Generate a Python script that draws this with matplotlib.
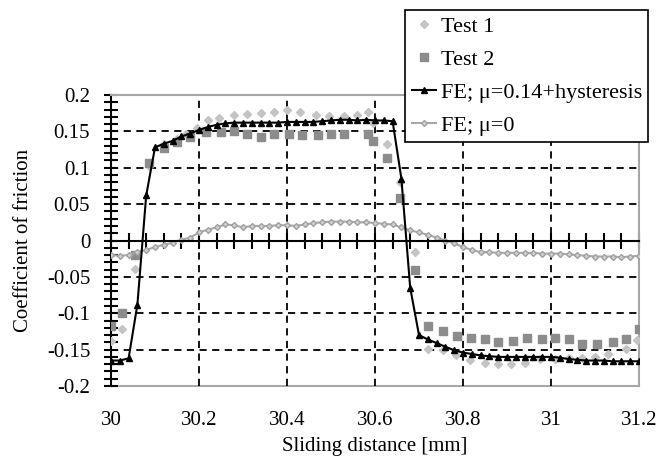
import numpy as np
import matplotlib
matplotlib.use("Agg")
import matplotlib.pyplot as plt
from matplotlib.ticker import MultipleLocator

plt.rcParams['font.family'] = ['Liberation Serif', 'DejaVu Serif']

# ---- data ----
test1_x = [30.0, 30.025, 30.055, 30.087, 30.12, 30.15, 30.17, 30.195, 30.22, 30.245,
           30.28, 30.31, 30.34, 30.37, 30.40, 30.43, 30.465, 30.495, 30.53, 30.56,
           30.585, 30.595, 30.627, 30.657, 30.69, 30.72, 30.755, 30.785, 30.816, 30.85,
           30.88, 30.91, 30.94, 30.975, 31.01, 31.04, 31.07, 31.10, 31.13, 31.17, 31.195]
test1_y = [-0.138, -0.122, -0.039, 0.102, 0.132, 0.14, 0.146, 0.155, 0.165, 0.169,
           0.172, 0.174, 0.175, 0.176, 0.179, 0.177, 0.173, 0.171, 0.171, 0.172,
           0.176, 0.161, 0.132, 0.08, -0.016, -0.149, -0.151, -0.158, -0.164, -0.168,
           -0.17, -0.17, -0.168, -0.163, -0.163, -0.162, -0.161, -0.16, -0.156, -0.149, -0.137]

test2_x = [30.0, 30.025, 30.055, 30.087, 30.12, 30.15, 30.18, 30.215, 30.25, 30.28,
           30.31, 30.34, 30.37, 30.405, 30.435, 30.47, 30.5, 30.53, 30.585, 30.595,
           30.627, 30.657, 30.69, 30.72, 30.755, 30.786, 30.818, 30.85, 30.88, 30.914,
           30.945, 30.98, 31.01, 31.04, 31.07, 31.105, 31.14, 31.17, 31.2]
test2_y = [-0.117, -0.10, -0.02, 0.106, 0.127, 0.136, 0.142, 0.149, 0.149, 0.15,
           0.147, 0.142, 0.147, 0.147, 0.145, 0.145, 0.147, 0.147, 0.147, 0.137,
           0.113, 0.059, -0.041, -0.117, -0.124, -0.131, -0.134, -0.136, -0.14, -0.138,
           -0.134, -0.136, -0.134, -0.136, -0.142, -0.142, -0.14, -0.135, -0.121]

fe_x = [30.0, 30.02, 30.04, 30.06, 30.08, 30.10, 30.12, 30.14, 30.16, 30.18,
        30.20, 30.22, 30.24, 30.26, 30.28, 30.30, 30.32, 30.34, 30.36, 30.38,
        30.40, 30.42, 30.44, 30.46, 30.48, 30.50, 30.52, 30.54, 30.56, 30.58,
        30.60, 30.62, 30.64, 30.66, 30.68, 30.70, 30.72, 30.74, 30.76, 30.78,
        30.80, 30.82, 30.84, 30.86, 30.88, 30.90, 30.92, 30.94, 30.96, 30.98,
        31.00, 31.02, 31.04, 31.06, 31.08, 31.10, 31.12, 31.14, 31.16, 31.18, 31.20]
fe_hyst_y = [-0.165, -0.165, -0.162, -0.088, 0.062, 0.128, 0.133, 0.137, 0.143, 0.147,
             0.152, 0.156, 0.159, 0.161, 0.162, 0.162, 0.162, 0.162, 0.162, 0.162,
             0.163, 0.163, 0.163, 0.163, 0.164, 0.165, 0.166, 0.166, 0.165, 0.166,
             0.165, 0.165, 0.164, 0.085, -0.065, -0.13, -0.136, -0.141, -0.146, -0.151,
             -0.154, -0.156, -0.158, -0.159, -0.16, -0.16, -0.16, -0.16, -0.16, -0.16,
             -0.16, -0.161, -0.163, -0.164, -0.165, -0.165, -0.165, -0.166, -0.166, -0.166, -0.166]
fe_zero_y = [-0.02, -0.021, -0.02, -0.016, -0.013, -0.009, -0.006, -0.003, 0.001, 0.004,
             0.011, 0.015, 0.018, 0.022, 0.021, 0.018, 0.02, 0.02, 0.02, 0.021,
             0.021, 0.02, 0.022, 0.024, 0.025, 0.026, 0.026, 0.026, 0.025, 0.025,
             0.024, 0.023, 0.022, 0.018, 0.014, 0.011, 0.008, 0.004, 0.0, -0.004,
             -0.009, -0.013, -0.016, -0.016, -0.017, -0.017, -0.017, -0.017, -0.017, -0.018,
             -0.018, -0.018, -0.019, -0.02, -0.021, -0.022, -0.022, -0.022, -0.023, -0.022, -0.021]

x_ticks = [30.0, 30.2, 30.4, 30.6, 30.8, 31.0, 31.2]
x_ticklabels = ['30', '30.2', '30.4', '30.6', '30.8', '31', '31.2']
y_ticks = [-0.2, -0.15, -0.1, -0.05, 0, 0.05, 0.1, 0.15, 0.2]
y_ticklabels = ['-0.2', '-0.15', '-0.1', '-0.05', '0', '0.05', '0.1', '0.15', '0.2']

# ---- figure ----
fig = plt.figure(figsize=(6.63, 4.74), dpi=100)
ax = fig.add_axes([111/663, 1 - 386/474, (639 - 111)/663, (386 - 95)/474])

frame_gray = '#a6a6a6'
fs = 15

ax.plot(test1_x, test1_y, linestyle='none', marker='D', markersize=4.5,
        color='#c4c4c4', label='Test 1', zorder=3)
ax.plot(test2_x, test2_y, linestyle='none', marker='s', markersize=6,
        color='#8c8c8c', label='Test 2', zorder=3)
ax.plot(fe_x, fe_hyst_y, color='black', linewidth=1.5, marker='^', markersize=4,
        label='FE; \u03bc=0.14+hysteresis', zorder=5)
ax.plot(fe_x, fe_zero_y, color='#a8a8a8', linewidth=1.5, marker='D', markersize=3,
        markerfacecolor='#d0d0d0', markeredgecolor='#a0a0a0',
        label='FE; \u03bc=0', zorder=4)

ax.set_xlim(30, 31.2)
ax.set_ylim(-0.2, 0.2)

# grid (inner lines only)
for xv in x_ticks[1:-1]:
    ax.axvline(xv, color='black', linestyle=(0, (4, 3)), linewidth=1.3, zorder=1)
for yv in y_ticks[1:-1]:
    if yv != 0:
        ax.axhline(yv, color='black', linestyle=(0, (4, 3)), linewidth=1.3, zorder=1)

# spines
ax.spines['top'].set_color(frame_gray)
ax.spines['right'].set_color(frame_gray)
ax.spines['left'].set_color('black')
ax.spines['left'].set_linewidth(1.5)
ax.spines['bottom'].set_position(('data', 0))
ax.spines['bottom'].set_color('black')
ax.spines['bottom'].set_linewidth(1.5)
ax.spines['bottom'].set_zorder(6)
for s in ('top', 'right'):
    ax.spines[s].set_linewidth(1.5)

ax.xaxis.set_major_locator(MultipleLocator(0.2))
ax.xaxis.set_minor_locator(MultipleLocator(0.04))
ax.yaxis.set_major_locator(MultipleLocator(0.05))
ax.yaxis.set_minor_locator(MultipleLocator(0.01))
ax.tick_params(axis='x', which='both', direction='inout', length=12, width=1.5,
               labelbottom=False, top=False)
ax.tick_params(axis='y', which='both', direction='inout', length=10, width=1.5,
               right=False, labelsize=fs, pad=10)
ax.set_yticks(y_ticks)
ax.set_yticklabels(y_ticklabels)

# bottom frame line with the x tick labels
sec = ax.secondary_xaxis(0.0)
sec.set_xticks(x_ticks)
sec.set_xticklabels(x_ticklabels)
sec.tick_params(axis='x', length=0, labelsize=fs, pad=18)
sec.spines['bottom'].set_color(frame_gray)
sec.spines['bottom'].set_linewidth(1.5)
sec.set_xlabel('Sliding distance [mm]', fontsize=fs, labelpad=5)

ax.set_ylabel('Coefficient of friction', fontsize=fs, labelpad=10)

leg = fig.legend(loc='upper left', bbox_to_anchor=(405/663, 1 - 10/474),
                 fontsize=16, frameon=True, fancybox=False, edgecolor='black',
                 framealpha=1, numpoints=1, handlelength=1.1, handletextpad=0.2,
                 labelspacing=0.55, borderpad=0.3, borderaxespad=0)
leg.get_frame().set_linewidth(1.2)

fig.savefig('out.png', dpi=100)
